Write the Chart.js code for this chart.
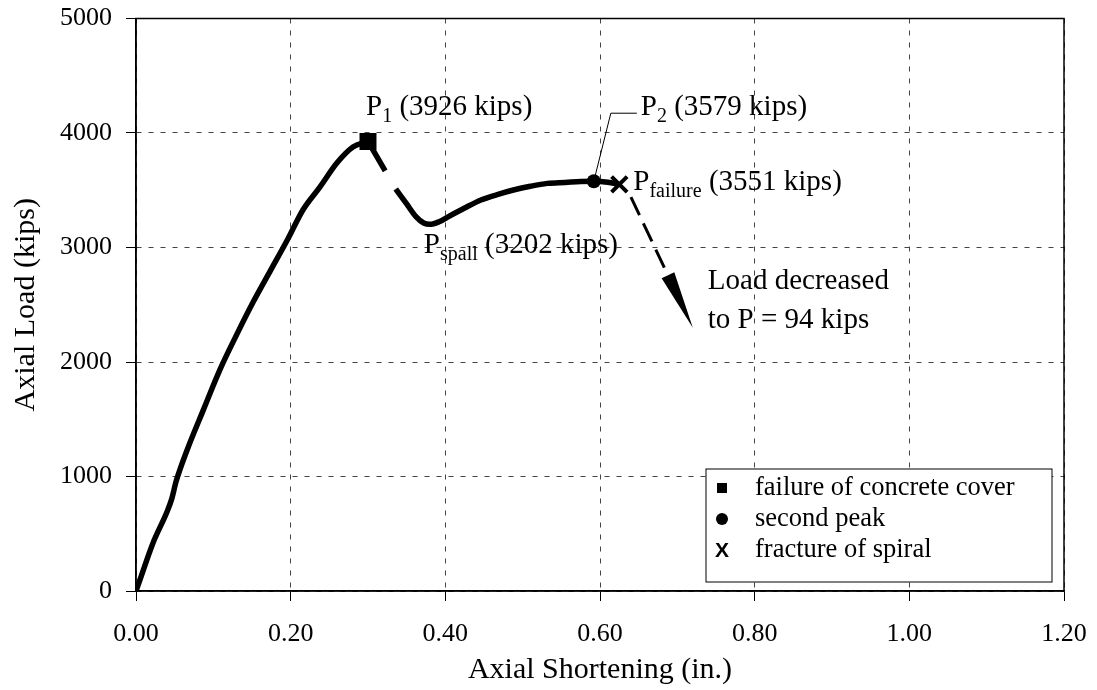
<!DOCTYPE html>
<html>
<head>
<meta charset="utf-8">
<script src="https://cdn.jsdelivr.net/npm/chart.js@4.4.0/dist/chart.umd.min.js"></script>
<style>
  html, body { margin: 0; padding: 0; background: #fff; }
  #wrap { width: 1097px; height: 690px; }
</style>
</head>
<body>
<div id="wrap"><canvas id="loadChart"></canvas></div>
<script>
// ascending branch up to cover failure (in., kips)
const riseShortening = [0, 0.005, 0.022, 0.040, 0.046, 0.052, 0.066, 0.087, 0.109, 0.131, 0.152, 0.174, 0.196, 0.216, 0.238, 0.260, 0.281, 0.300];
const riseLoad = [0, 96, 420, 690, 800, 960, 1230, 1580, 1940, 2250, 2530, 2800, 3070, 3330, 3530, 3740, 3880, 3926];

// drop after cover spalls (drawn dashed)
const dropShortening = [0.300, 0.336];
const dropLoad = [3926, 3510];

// confined core response up to spiral fracture
const coreShortening = [0.336, 0.350, 0.362, 0.372, 0.380, 0.392, 0.403, 0.425, 0.446, 0.467, 0.488, 0.510, 0.532, 0.555, 0.575, 0.592, 0.610, 0.625];
const coreLoad = [3510, 3380, 3270, 3214, 3202, 3225, 3266, 3345, 3415, 3462, 3502, 3535, 3560, 3568, 3576, 3579, 3570, 3551];

// marked events
const eventLabels = ['failure of concrete cover', 'second peak', 'fracture of spiral'];
const eventShortening = [0.300, 0.592, 0.625];
const eventLoad = [3926, 3579, 3551];
const eventStyles = ['rect', 'circle', 'crossRot'];

// unloading arrow after fracture
const arrowShortening = [0.640, 0.720];
const arrowLoad = [3440, 2300];
const finalLoad = 94;

const xTicks = [0, 0.2, 0.4, 0.6, 0.8, 1.0, 1.2];
const yTicks = [0, 1000, 2000, 3000, 4000, 5000];

const serif = '"Liberation Serif", "Times New Roman", serif';
const pairs = (xs, ys) => xs.map((v, i) => ({ x: v, y: ys[i] }));
const spallLoad = Math.min(...coreLoad);
const spallShortening = coreShortening[coreLoad.indexOf(spallLoad)];

// text with subscripts: parts = [[text, isSub], ...]
const drawRich = (ctx, x, y, parts, size) => {
    let cx = x;
    parts.forEach(([text, sub]) => {
        const fs = sub ? Math.round(size * 0.7) : size;
        ctx.font = `${fs}px ${serif}`;
        ctx.fillText(text, cx, sub ? y + size * 0.24 : y);
        cx += ctx.measureText(text).width;
    });
};

const overlay = {
    id: 'overlay',
    afterDatasetsDraw(chart) {
        const { ctx, scales: { x, y } } = chart;
        const px = v => x.getPixelForValue(v);
        const py = v => y.getPixelForValue(v);
        ctx.save();
        ctx.fillStyle = '#000';
        ctx.strokeStyle = '#000';
        ctx.textAlign = 'left';
        ctx.textBaseline = 'alphabetic';

        // dashed arrow toward the unloaded state
        const x0 = px(arrowShortening[0]), y0 = py(arrowLoad[0]);
        const x1 = px(arrowShortening[1]), y1 = py(arrowLoad[1]);
        const len = Math.hypot(x1 - x0, y1 - y0);
        const ux = (x1 - x0) / len, uy = (y1 - y0) / len;
        const headLen = 58, headHalf = 7;
        const bx = x1 - ux * headLen, by = y1 - uy * headLen;
        ctx.lineWidth = 3;
        ctx.setLineDash([20, 9]);
        ctx.beginPath();
        ctx.moveTo(x0, y0);
        ctx.lineTo(bx, by);
        ctx.stroke();
        ctx.setLineDash([]);
        ctx.beginPath();
        ctx.moveTo(x1, y1);
        ctx.lineTo(bx - uy * headHalf, by + ux * headHalf);
        ctx.lineTo(bx + uy * headHalf, by - ux * headHalf);
        ctx.closePath();
        ctx.fill();

        const size = 29;
        // P1
        const p1x = px(eventShortening[0]), p1y = py(eventLoad[0]);
        drawRich(ctx, p1x - 2, p1y - 26, [['P'], ['1', true], [` (${eventLoad[0]} kips)`]], size);

        // P2 with leader line
        const p2x = px(eventShortening[1]), p2y = py(eventLoad[1]);
        ctx.lineWidth = 1;
        ctx.beginPath();
        ctx.moveTo(p2x, p2y);
        ctx.lineTo(p2x + 17, p2y - 68);
        ctx.lineTo(p2x + 43, p2y - 68);
        ctx.stroke();
        drawRich(ctx, p2x + 47, p2y - 66, [['P'], ['2', true], [` (${eventLoad[1]} kips)`]], size);

        // spalling minimum
        const sx = px(spallShortening), sy = py(spallLoad);
        drawRich(ctx, sx - 6, sy + 29, [['P'], ['spall', true], [` (${spallLoad} kips)`]], size);

        // spiral fracture
        const fx = px(eventShortening[2]), fy = py(eventLoad[2]);
        drawRich(ctx, fx + 14, fy + 6, [['P'], ['failure', true], [` (${eventLoad[2]} kips)`]], size);

        // note at arrow tip
        ctx.font = `${size}px ${serif}`;
        ctx.fillText('Load decreased', x1 + 15, y1 - 39);
        ctx.fillText(`to P = ${finalLoad} kips`, x1 + 15, y1);
        ctx.restore();
    },
    afterDraw(chart) {
        const { ctx, chartArea: a } = chart;
        ctx.save();
        // frame
        ctx.strokeStyle = '#000';
        ctx.lineWidth = 1.5;
        ctx.strokeRect(a.left, a.top, a.right - a.left, a.bottom - a.top);

        // legend box
        const w = 346, h = 113;
        const lx = a.right - 12 - w, ly = a.bottom - 9 - h;
        ctx.fillStyle = '#fff';
        ctx.fillRect(lx, ly, w, h);
        ctx.lineWidth = 1;
        ctx.strokeRect(lx, ly, w, h);
        ctx.fillStyle = '#000';
        ctx.textBaseline = 'middle';
        eventLabels.forEach((label, i) => {
            const rowY = ly + 19 + i * 31;
            const mx = lx + 16;
            if (eventStyles[i] === 'rect') {
                ctx.fillRect(mx - 5, rowY - 5, 10, 10);
            } else if (eventStyles[i] === 'circle') {
                ctx.beginPath();
                ctx.arc(mx, rowY, 6, 0, Math.PI * 2);
                ctx.fill();
            } else {
                ctx.font = 'bold 21px "Liberation Sans", Arial, sans-serif';
                ctx.textAlign = 'center';
                ctx.fillText('X', mx, rowY + 1);
            }
            ctx.textAlign = 'left';
            ctx.font = `26.5px ${serif}`;
            ctx.fillText(label, lx + 49, rowY);
        });
        ctx.restore();
    }
};

const lineBase = {
    type: 'line',
    borderColor: '#000',
    borderWidth: 5.5,
    pointRadius: 0,
    fill: false,
    cubicInterpolationMode: 'monotone',
    borderCapStyle: 'butt'
};

new Chart(document.getElementById('loadChart'), {
    type: 'line',
    data: {
        datasets: [
            { ...lineBase, label: 'rise', data: pairs(riseShortening, riseLoad) },
            { ...lineBase, label: 'drop', data: pairs(dropShortening, dropLoad), borderDash: [34, 21], cubicInterpolationMode: 'default', tension: 0 },
            { ...lineBase, label: 'core', data: pairs(coreShortening, coreLoad) },
            ...eventLabels.map((label, i) => ({
                type: 'scatter',
                label,
                data: [{ x: eventShortening[i], y: eventLoad[i] }],
                pointStyle: eventStyles[i],
                pointRadius: [12, 7, 11][i],
                backgroundColor: '#000',
                borderColor: '#000',
                borderWidth: eventStyles[i] === 'crossRot' ? 4 : 0
            }))
        ]
    },
    options: {
        responsive: true,
        maintainAspectRatio: false,
        animation: false,
        layout: { padding: { top: 18.5, right: 33, left: 0, bottom: 0 } },
        plugins: {
            legend: { display: false },
            tooltip: { enabled: false }
        },
        scales: {
            x: {
                type: 'linear',
                min: 0,
                max: 1.2,
                afterFit: s => {
                    s.height = 99;
                    s.paddingLeft = 0;
                    s.paddingRight = 0;
                },
                afterBuildTicks: s => { s.ticks = xTicks.map(v => ({ value: v })); },
                ticks: {
                    color: '#000',
                    font: { family: serif, size: 26 },
                    padding: 18,
                    maxRotation: 0,
                    callback: v => Number(v).toFixed(2)
                },
                grid: {
                    color: '#444',
                    lineWidth: 1,
                    tickLength: 10,
                    tickColor: '#000',
                    tickBorderDash: []
                },
                border: { color: '#000', width: 1.5, dash: [5, 7] },
                title: {
                    display: true,
                    text: 'Axial Shortening (in.)',
                    color: '#000',
                    font: { family: serif, size: 30 },
                    padding: { top: 0, bottom: 2 }
                }
            },
            y: {
                type: 'linear',
                min: 0,
                max: 5000,
                afterFit: s => {
                    s.width = 136;
                    s.paddingTop = 0;
                    s.paddingBottom = 0;
                },
                afterBuildTicks: s => { s.ticks = yTicks.map(v => ({ value: v })); },
                ticks: {
                    color: '#000',
                    font: { family: serif, size: 26 },
                    padding: 14,
                    callback: v => String(v)
                },
                grid: {
                    color: '#444',
                    lineWidth: 1,
                    tickLength: 10,
                    tickColor: '#000',
                    tickBorderDash: []
                },
                border: { color: '#000', width: 1.5, dash: [5, 7] },
                title: {
                    display: true,
                    text: 'Axial Load (kips)',
                    color: '#000',
                    font: { family: serif, size: 30 },
                    padding: { top: 8, bottom: 0 }
                }
            }
        }
    },
    plugins: [overlay]
});
</script>
</body>
</html>
